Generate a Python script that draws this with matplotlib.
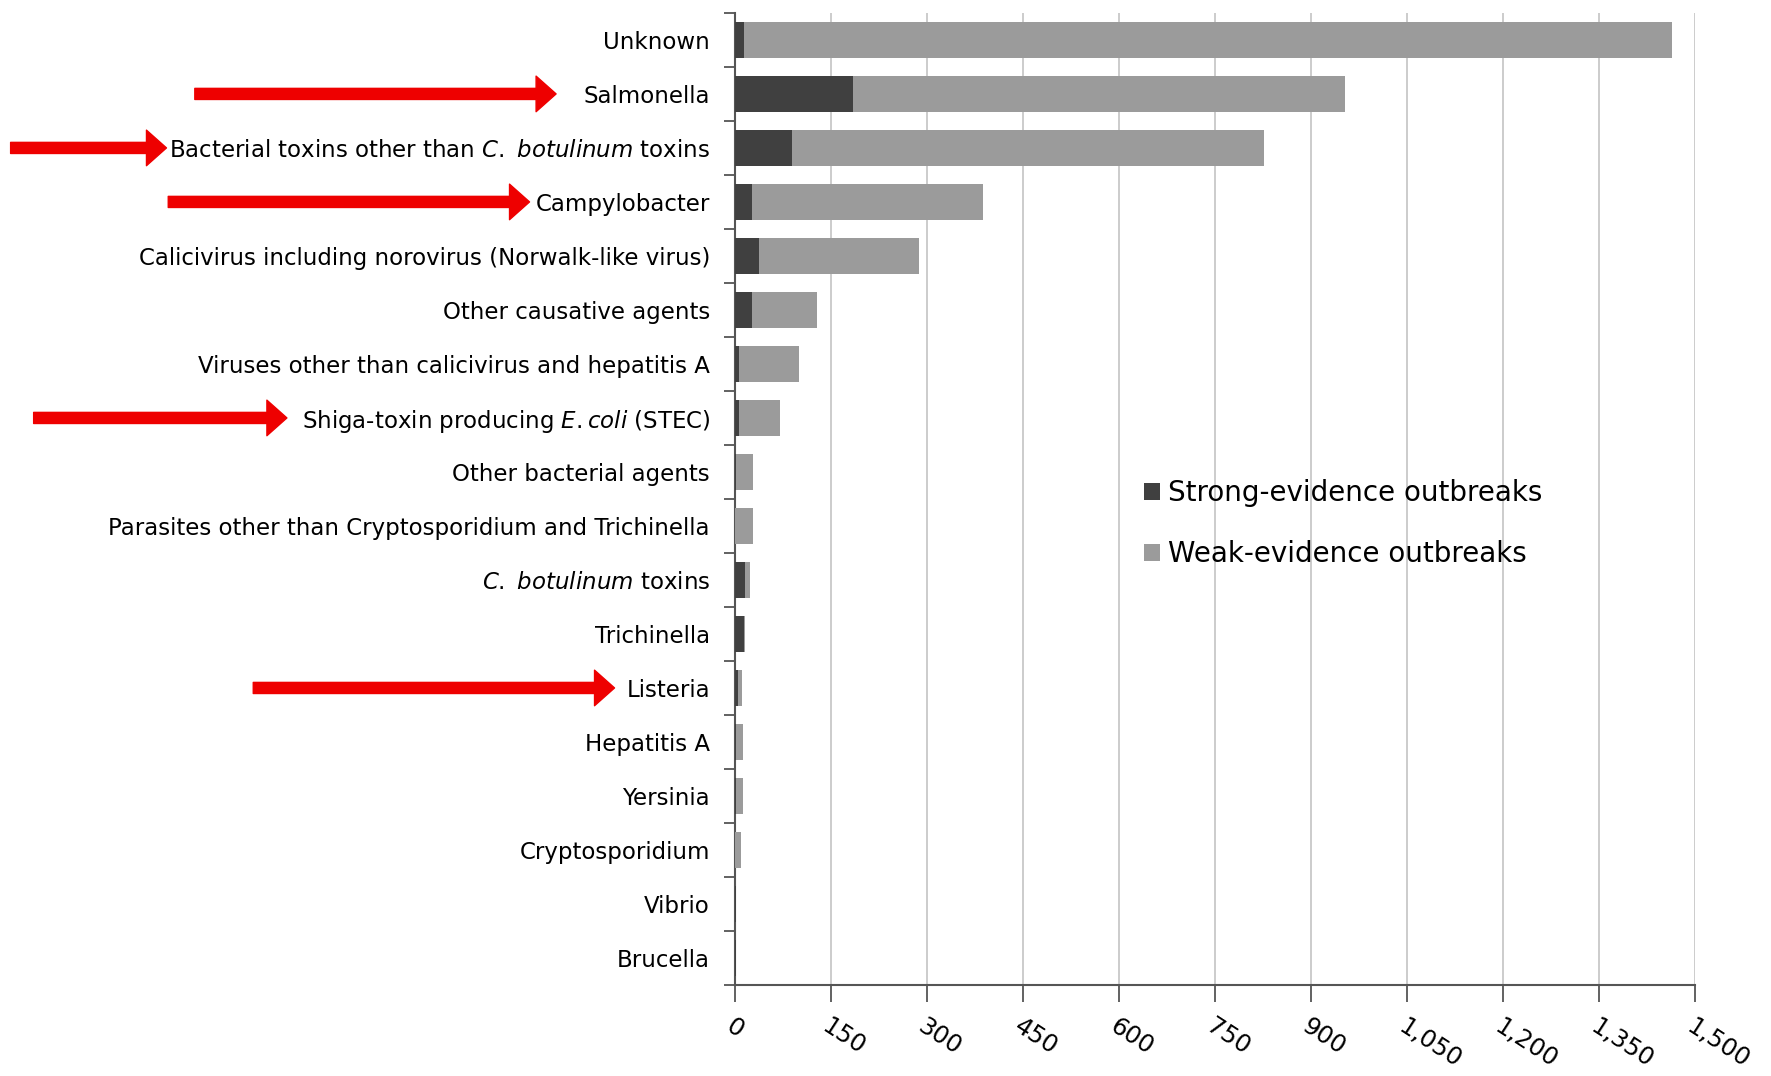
import matplotlib
matplotlib.use("Agg")
import matplotlib.pyplot as plt
import numpy as np

plt.rcParams['font.family'] = ['DejaVu Sans']
plt.rcParams['mathtext.fontset'] = 'dejavusans'

# agents, top to bottom
agents = [
    "Unknown",
    "Salmonella",
    r"Bacterial toxins other than $\it{C.}$ $\it{botulinum}$ toxins",
    "Campylobacter",
    "Calicivirus including norovirus (Norwalk-like virus)",
    "Other causative agents",
    "Viruses other than calicivirus and hepatitis A",
    r"Shiga-toxin producing $\it{E.coli}$ (STEC)",
    "Other bacterial agents",
    "Parasites other than Cryptosporidium and Trichinella",
    r"$\it{C.}$ $\it{botulinum}$ toxins",
    "Trichinella",
    "Listeria",
    "Hepatitis A",
    "Yersinia",
    "Cryptosporidium",
    "Vibrio",
    "Brucella",
]
strong = [14, 184, 89, 26, 38, 26, 6, 6, 2, 0, 16, 14, 4, 2, 1, 0, 1, 1]
total = [1465, 953, 826, 388, 288, 128, 100, 70, 28, 28, 23, 15, 11, 13, 13, 9, 2, 1]
weak = [t - s for t, s in zip(total, strong)]

# rows marked with red arrows in the original
highlighted = ["Salmonella", "Bacterial toxins", "Campylobacter", "Shiga-toxin", "Listeria"]
arrow_x = {  # tail, head in figure fraction
    "Salmonella": (0.110, 0.314),
    "Bacterial toxins": (0.006, 0.094),
    "Campylobacter": (0.095, 0.299),
    "Shiga-toxin": (0.019, 0.162),
    "Listeria": (0.143, 0.347),
}

xticks = np.arange(0, 1501, 150)

fig = plt.figure(figsize=(17.71, 10.76), dpi=100)
ax = fig.add_axes([0.415, 0.0846, 0.542, 0.9034])

y = np.arange(len(agents))
ax.barh(y, strong, height=0.68, color='#404040', label='Strong-evidence outbreaks', zorder=3)
ax.barh(y, weak, left=strong, height=0.68, color='#9b9b9b', label='Weak-evidence outbreaks', zorder=3)

ax.set_xlim(0, 1500)
ax.set_ylim(len(agents) - 0.5, -0.5)
ax.set_xticks(xticks)
ax.set_xticklabels([f"{v:,}" for v in xticks], rotation=-33, ha='left', va='top',
                   rotation_mode='anchor', fontsize=17.5)
ax.xaxis.grid(True, color='#c8c8c8', lw=1.3, zorder=0)

ax.set_yticks(y)
ax.set_yticklabels(agents, fontsize=16.5)
ax.set_yticks(np.arange(-0.5, len(agents), 1), minor=True)
ax.tick_params(axis='y', which='major', length=0, pad=18)
ax.tick_params(axis='y', which='minor', length=8, width=1.3, color='#555555')
ax.tick_params(axis='x', length=12, width=1.3, color='#555555', pad=9)

for s in ['top', 'right']:
    ax.spines[s].set_visible(False)
for s in ['left', 'bottom']:
    ax.spines[s].set_color('#555555')
    ax.spines[s].set_linewidth(1.5)

ax.legend(loc='upper left', bbox_to_anchor=(0.632, 0.578), bbox_transform=fig.transFigure,
          frameon=False, fontsize=20, handlelength=0.55, handleheight=0.55,
          handletextpad=0.3, labelspacing=1.2)

for name in highlighted:
    i = next(k for k, a in enumerate(agents) if a.startswith(name))
    x0, x1 = arrow_x[name]
    ax.annotate("", xy=(x1, i), xytext=(x0, i),
                xycoords=('figure fraction', 'data'), textcoords=('figure fraction', 'data'),
                arrowprops=dict(arrowstyle="simple,head_length=0.9,head_width=1.6,tail_width=0.5",
                                color='#ee0000', mutation_scale=16, shrinkA=0, shrinkB=0),
                annotation_clip=False)

fig.savefig("out.png", dpi=100)
